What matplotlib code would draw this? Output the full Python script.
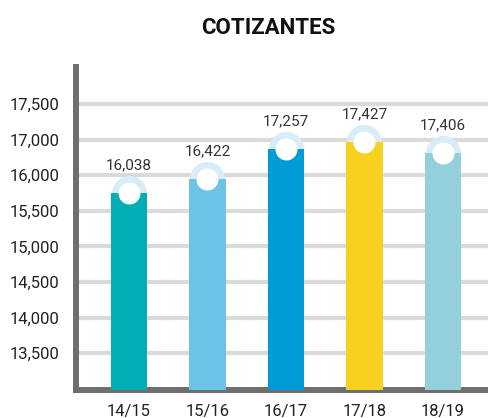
import matplotlib
matplotlib.use("Agg")
import matplotlib.pyplot as plt
from matplotlib.ticker import FixedLocator, FixedFormatter

# --- data ---
seasons = ["14/15", "15/16", "16/17", "17/18", "18/19"]
value_labels = ["16,038", "16,422", "17,257", "17,427", "17,406"]
# bar heights as drawn against the gridlines
bar_heights = [16254, 16447, 16868, 16966, 16808]
bar_colors = ["#00AEB3", "#6CC3E5", "#009CD8", "#F8D020", "#94CFDC"]
tick_values = [14000, 14500, 15000, 15500, 16000, 16500, 17000, 17500]
tick_labels = ["13,500", "14,000", "14,500", "15,000", "15,500", "16,000", "17,000", "17,500"]

plt.rcParams['font.family'] = ['Roboto', 'DejaVu Sans']

fig = plt.figure(figsize=(4.89, 4.18), dpi=100)
ax = fig.add_axes([0.156, 0.067, 0.844, 0.773])

x = list(range(len(seasons)))

# halo behind, bar, white dot on top
ax.scatter(x, bar_heights, s=640, color="#D8EDF7", zorder=2, linewidths=0)
ax.bar(x, bar_heights, width=0.46, color=bar_colors, zorder=3)
ax.scatter(x, bar_heights, s=250, color="white", zorder=4, linewidths=0)

for xi, h, lab in zip(x, bar_heights, value_labels):
    ax.annotate(lab, (xi, h), xytext=(0, 17), textcoords="offset points",
                ha="center", va="baseline", fontsize=11, color="#333333")

ax.set_xlim(-0.671, 4.586)
ax.set_ylim(13485, 18020)

ax.yaxis.set_major_locator(FixedLocator(tick_values))
ax.yaxis.set_major_formatter(FixedFormatter(tick_labels))
ax.set_xticks(x)
ax.set_xticklabels(seasons)

ax.grid(axis="y", color="#DADADA", linewidth=3, zorder=0)
ax.set_axisbelow(True)

for side in ["top", "right"]:
    ax.spines[side].set_visible(False)
for side in ["left", "bottom"]:
    ax.spines[side].set_color("#6D6E6D")
    ax.spines[side].set_linewidth(4.3)
    ax.spines[side].set_capstyle("projecting")

ax.tick_params(axis="both", length=0, labelsize=12, colors="#222222")
ax.tick_params(axis="y", pad=12)
ax.tick_params(axis="x", pad=10)

fig.text(0.548, 0.933, "COTIZANTES", ha="center", va="center",
         fontsize=16, fontweight="bold", color="#111111")

fig.savefig("out.png", dpi=100)
